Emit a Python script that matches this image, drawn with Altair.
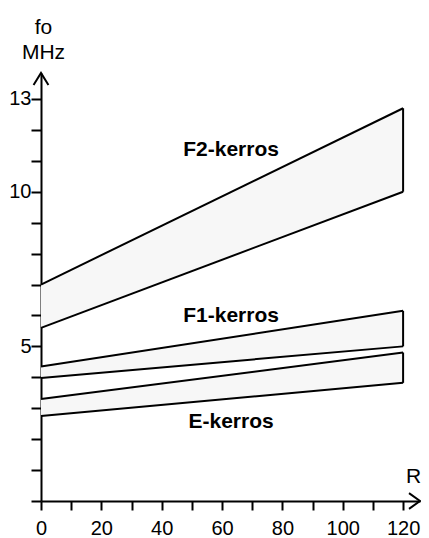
import altair as alt
import pandas as pd

# ---- data ----
bands = ["F2-kerros", "F1-kerros", "E-kerros"]
r_ends = [0, 120]
upper_start = [7.0, 4.35, 3.3]
upper_end = [12.7, 6.15, 4.8]
lower_start = [5.6, 3.98, 2.75]
lower_end = [10.0, 5.0, 3.82]
label_r = [63, 63, 63]
label_fo = [11.17, 5.79, 2.36]
x_ticks = list(range(0, 121, 10))
y_ticks = list(range(0, 14))
y_labels = [5, 10, 13]
x_max = 125.6
y_max = 13.84

rows = []
for i, b in enumerate(bands):
    rows.append(dict(band=b, r=r_ends[0], fo=lower_start[i], fo2=upper_start[i]))
    rows.append(dict(band=b, r=r_ends[1], fo=lower_end[i], fo2=upper_end[i]))
df = pd.DataFrame(rows)
df_end = df[df["r"] == r_ends[1]]
lab_df = pd.DataFrame({"band": bands, "r": label_r, "fo": label_fo})
xarrow_df = pd.DataFrame({"r": [x_max], "fo": [0]})
yarrow_df = pd.DataFrame({"r": [0], "fo": [y_max]})

FONT = "Liberation Sans"
LW = 2

xscale = alt.Scale(domain=[0, x_max], nice=False, zero=False)
yscale = alt.Scale(domain=[0, y_max], nice=False, zero=False)

xaxis = alt.Axis(
    values=x_ticks,
    labelExpr="datum.value % 20 == 0 ? datum.label : ''",
    title="R", titleAngle=0, titleX=372, titleY=-19, titleAlign="center",
    titleBaseline="alphabetic", titleFont=FONT, titleFontSize=21,
    titleFontWeight="normal", titleColor="black",
    labelFont=FONT, labelFontSize=20, labelColor="black", labelPadding=8,
    labelFlush=False, labelOverlap=False,
    tickSize=9, tickWidth=LW, tickColor="black",
    domainColor="black", domainWidth=LW, grid=False,
)
yaxis = alt.Axis(
    values=y_ticks,
    labelExpr=f"indexof({y_labels}, datum.value) >= 0 ? datum.label : ''",
    title=["fo", "MHz"], titleAngle=0, titleX=2, titleY=-40, titleAlign="center",
    titleBaseline="alphabetic", titleLineHeight=25, titleFont=FONT,
    titleFontSize=21, titleFontWeight="normal", titleColor="black",
    labelFont=FONT, labelFontSize=20, labelColor="black", labelPadding=0,
    labelFlush=False, labelOverlap=False,
    tickSize=10, tickWidth=LW, tickColor="black",
    domainColor="black", domainWidth=LW, grid=False,
)

X = alt.X("r:Q", scale=xscale, axis=xaxis)
Y = alt.Y("fo:Q", scale=yscale, axis=yaxis)

area = alt.Chart(df).mark_area(color="#f7f7f7").encode(
    x=X, y=Y, y2="fo2:Q", detail="band:N"
)
lower = alt.Chart(df).mark_line(color="black", strokeWidth=LW).encode(
    x=X, y=Y, detail="band:N"
)
upper = alt.Chart(df).mark_line(color="black", strokeWidth=LW).encode(
    x=X, y=alt.Y("fo2:Q", scale=yscale, axis=yaxis), detail="band:N"
)
end_rule = alt.Chart(df_end).mark_rule(color="black", strokeWidth=LW).encode(
    x=X, y=Y, y2="fo2:Q"
)
labels = alt.Chart(lab_df).mark_text(
    font=FONT, fontSize=21, fontWeight="bold", align="center",
    baseline="alphabetic", color="black"
).encode(x=X, y=Y, text="band:N")

xarrow = alt.Chart(xarrow_df).mark_point(
    shape="M-1,-0.72L0,0L-1,0.72", size=484, filled=False,
    stroke="black", strokeWidth=LW, opacity=1
).encode(x=X, y=Y)
yarrow = alt.Chart(yarrow_df).mark_point(
    shape="M-0.62,1L0,0L0.62,1", size=576, filled=False,
    stroke="black", strokeWidth=LW, opacity=1
).encode(x=X, y=Y)

chart = alt.layer(area, lower, upper, end_rule, labels, xarrow, yarrow).properties(
    width=379, height=428,
    autosize=alt.AutoSizeParams(type="none"),
    padding={"left": 33, "top": 65, "right": 1, "bottom": 37},
).configure_view(stroke=None)

chart.save("out.html", embed_options={"renderer": "svg", "actions": False})
